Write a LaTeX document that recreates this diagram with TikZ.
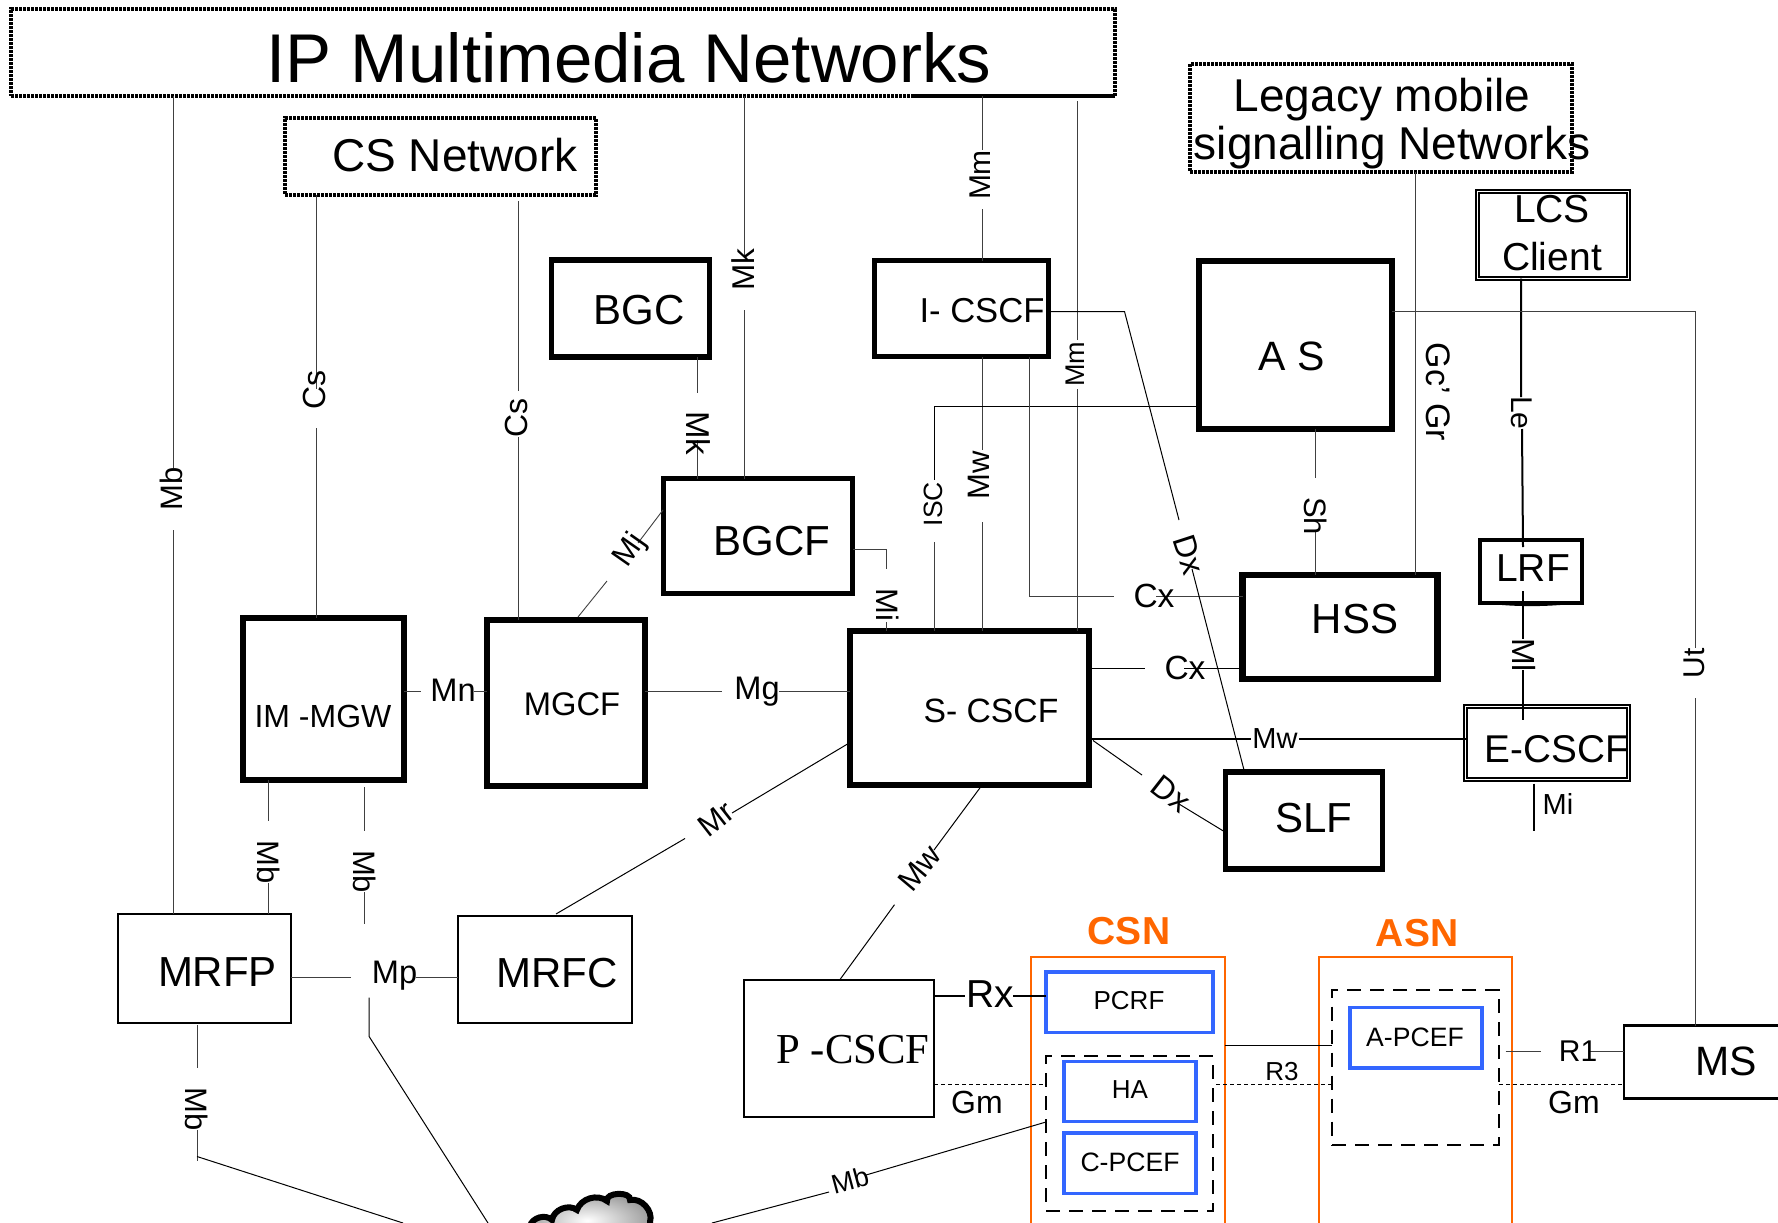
\documentclass[tikz,border=0pt]{standalone}
\usepackage{fontspec}
\setmainfont{Liberation Sans}
\newfontfamily\serifpart{Liberation Serif}
\tikzset{
    lab/.style={font=\fontsize{#1}{48}\selectfont,inner sep=0pt,outer sep=0pt,align=center},
    wh/.style 2 args={minimum width=#1pt,minimum height=#2pt,inner sep=0pt,outer sep=0pt},
    heavybox/.style={draw,line width=#1pt},
    thinbox/.style={draw,line width=2pt},
    doublebox/.style={draw,double,double distance=1.6pt,line width=2pt},
    dotbox/.style={draw,line width=3.5pt,dash pattern=on 3pt off 1pt},
    bluebox/.style={draw=netblue,line width=3.4pt},
    dashbox/.style={draw,line width=2pt,dash pattern=on 14pt off 9pt},
    orangebox/.style={draw=netorange,line width=2pt},
    lnk/.style={line width=0.9pt,black!75},
    solidlnk/.style={line width=1pt},
    boldlnk/.style={line width=2pt},
    dashlnk/.style={line width=1pt,dash pattern=on 4pt off 3pt}
}
\definecolor{netblue}{RGB}{51,102,255}
\definecolor{netorange}{RGB}{255,102,0}
\begin{document}
\begin{tikzpicture}[x=1pt,y=-1pt]
    \useasboundingbox (0,0) rectangle (1778,1223);
    \clip (0,0) rectangle (1778,1223);
    \node[dotbox,wh={1104}{87}] (ipn) at (563,52.5) {};
    \node[lab=69] (ipnT) at (629,58) {IP Multimedia Networks};
    \node[dotbox,wh={311}{77}] (csn0) at (440.5,156.5) {};
    \node[lab=46] (csn0T) at (455,155) {CS Network};
    \node[dotbox,wh={382}{108}] (leg) at (1381,118) {};
    \node[lab=46] (legT) at (1392,123.5) {\hspace*{-20pt}Legacy mobile\\signalling Networks};
    \node[doublebox,wh={151}{87}] (lcs) at (1553,235) {};
    \node[lab=39] (lcsT) at (1552,233) {LCS\\Client};
    \node[heavybox=5.5,wh={158}{97}] (bgc) at (630.5,308.5) {};
    \node[lab=42] (bgcT) at (639,310) {BGC};
    \node[heavybox=5,wh={174}{96}] (icscf) at (961.5,308.5) {};
    \node[lab=34.6] (icscfT) at (982,311) {I- CSCF};
    \node[heavybox=6.5,wh={193}{168}] (as) at (1295.5,345) {};
    \node[lab=41] (asT) at (1292,356) {A S};
    \node[heavybox=5.5,wh={189}{115}] (bgcf) at (758,536) {};
    \node[lab=42] (bgcfT) at (772,541) {BGCF};
    \node[heavybox=6,wh={161}{162}] (imgw) at (323.5,699) {};
    \node[lab=32] (imgwT) at (323,716) {IM -MGW};
    \node[heavybox=6,wh={158}{166}] (mgcf) at (566,703) {};
    \node[lab=32.7] (mgcfT) at (572,704) {MGCF};
    \node[heavybox=6,wh={239}{154}] (scscf) at (969.5,708) {};
    \node[lab=33.7] (scscfT) at (991,711) {S- CSCF};
    \node[heavybox=6.5,wh={195}{104}] (hss) at (1340,627) {};
    \node[lab=42] (hssT) at (1355,619) {HSS};
    \node[heavybox=4,wh={102}{63}] (lrf) at (1531,571) {};
    \node[lab=39] (lrfT) at (1533,568) {LRF};
    \node[doublebox,wh={163}{73}] (ecscf) at (1547,743) {};
    \node[lab=38.7] (ecscfT) at (1557,749.5) {E-CSCF};
    \node[heavybox=5.5,wh={157}{97}] (slf) at (1304,820.5) {};
    \node[lab=42] (slfT) at (1314,818) {SLF};
    \node[thinbox,wh={173}{108.5}] (mrfp) at (204.5,968.25) {};
    \node[lab=42] (mrfpT) at (217.5,972) {MRFP};
    \node[thinbox,wh={173.5}{107.8}] (mrfc) at (545,969.5) {};
    \node[lab=42] (mrfcT) at (557,973) {MRFC};
    \node[thinbox,wh={190}{137.4}] (pcscf) at (839,1048.7) {};
    \node[lab=42.7] (pcscfT) at (853,1050) {\serifpart P -CSCF};
    \node[orangebox,wh={193.5}{303}] (csn) at (1128,1108.5) {};
    \node[lab=39,text=netorange] (csnT) at (1129,931.5) {\bfseries CSN};
    \node[orangebox,wh={193}{303}] (asn) at (1415.5,1108.5) {};
    \node[lab=39,text=netorange] (asnT) at (1417,933.4) {\bfseries ASN};
    \node[bluebox,wh={167}{60.3}] (pcrf) at (1129.5,1002.2) {};
    \node[lab=26] (pcrfT) at (1129,1000.7) {PCRF};
    \node[dashbox,wh={167}{154.8}] (hagrp) at (1129.5,1133.4) {};
    \node[bluebox,wh={132}{59.8}] (ha) at (1130,1091.4) {};
    \node[lab=26] (haT) at (1130,1089.7) {HA};
    \node[bluebox,wh={132}{60.3}] (cpcef) at (1130,1163.3) {};
    \node[lab=26.6] (cpcefT) at (1130,1162) {C-PCEF};
    \node[dashbox,wh={167}{155.2}] (apgrp) at (1415.5,1067.4) {};
    \node[bluebox,wh={132}{60.4}] (apcef) at (1416,1037.8) {};
    \node[lab=26.6] (apcefT) at (1415,1037) {A-PCEF};
    \node[heavybox=2.5,wh={166}{73}] (ms) at (1707,1062) {};
    \node[lab=41] (msT) at (1726,1061) {MS};
    \draw[line width=3.5pt] (912,96) coordinate (ipnA) -- (ipn.south east);
    \draw[solidlnk] (lrf.south west) to[bend right=6] (lrf.south east);
    \shadedraw[inner color=white,outer color=gray!80,line width=6pt] (527,1250) to[bend left=50] (530,1226) to[bend left=60] (552,1220) to[bend left=60] (577,1210) to[bend left=55] (607,1201) to[bend left=100] (630,1200) to[bend left=60] (650,1222) -- (650,1250) -- cycle;
    \coordinate (cloudA) at (403,1223);
    \coordinate (cloudB) at (488,1223);
    \coordinate (cloudC) at (712,1223);

    \coordinate (mbA) at (173,468); \coordinate (mbB) at (173,530);
    \draw[lnk] (ipn.south -| mbA) -- (mbA) (mbB) -- (mrfp.north -| mbB);
    \node[lab=31,rotate=90] (mbL) at (171,489) {Mb};
    \coordinate (csA) at (316,389); \coordinate (csB) at (316,428);
    \draw[lnk] (csn0.south -| csA) -- (csA) (csB) -- (imgw.north -| csB);
    \node[lab=32,rotate=90] (csL) at (314,390) {Cs};
    \coordinate (ctA) at (518,201); \coordinate (ctB) at (518,391); \coordinate (ctC) at (518,437);
    \draw[lnk] (ctA) -- (ctB) (ctC) -- (mgcf.north -| ctC);
    \node[lab=32,rotate=90] (ctL) at (516,418) {Cs};
    \coordinate (mkA) at (744,257); \coordinate (mkB) at (744,310);
    \draw[lnk] (ipn.south -| mkA) -- (mkA) (mkB) -- (bgcf.north -| mkB);
    \node[lab=31.5,rotate=90] (mkL) at (743,270) {Mk};
    \coordinate (klA) at (697,393); \coordinate (klB) at (697,440);
    \draw[lnk] (bgc.south -| klA) -- (klA) (klB) -- (bgcf.north -| klB);
    \node[lab=33,rotate=-90] (klL) at (698,433) {Mk};
    \coordinate (mjA) at (578,617); \coordinate (mjB) at (607,581); \coordinate (mjC) at (638,543); \coordinate (mjD) at (663,510);
    \draw[lnk] (mjA) -- (mjB) (mjC) -- (mjD);
    \node[lab=31,rotate=55] (mjL) at (630,551) {Mj};
    \coordinate (miA) at (886.5,569); \coordinate (miB) at (886.5,622);
    \draw[lnk] (bgcf.east |- 0,549) -| (miA) (miB) -- (scscf.north -| miB);
    \node[lab=31,rotate=-90] (miL) at (888,605) {Mi};
    \coordinate (mmA) at (982,150); \coordinate (mmB) at (982,209);
    \draw[lnk] (ipn.south -| mmA) -- (mmA) (mmB) -- (icscf.north -| mmB);
    \node[lab=30,rotate=90] (mmL) at (980,175) {Mm};
    \coordinate (moA) at (1077.5,101); \coordinate (moB) at (1077.5,340); \coordinate (moC) at (1077.5,389);
    \draw[lnk] (moA) -- (moB) (moC) -- (scscf.north -| moC);
    \node[lab=27,rotate=90] (moL) at (1075,364) {Mm};
    \coordinate (mwA) at (982,450); \coordinate (mwB) at (982,522);
    \draw[lnk] (icscf.south -| mwA) -- (mwA) (mwB) -- (scscf.north -| mwB);
    \node[lab=31,rotate=90] (mwL) at (979,475) {Mw};
    \coordinate (isA) at (934,480); \coordinate (isB) at (934,542);
    \draw[solidlnk] (as.west |- 0,406) -| (isA);
    \draw[lnk] (isB) -- (scscf.north -| isB);
    \node[lab=26.5,rotate=90] (isL) at (933,504) {ISC};
    \coordinate (cxA) at (1029,596); \coordinate (cxB) at (1114,596); \coordinate (cxC) at (1156,596);
    \draw[lnk] (icscf.south -| cxA) -- (cxA) -- (cxB) (cxC) -- (hss.west |- cxC);
    \node[lab=33.5] (cxL) at (1154,596) {Cx};
    \coordinate (dxA) at (1124.5,311.5); \coordinate (dxB) at (1179,520); \coordinate (dxC) at (1192,569); \coordinate (dxD) at (1244,770);
    \draw[solidlnk] (icscf.east |- dxA) -- (dxA) -- (dxB) (dxC) -- (dxD);
    \node[lab=32,rotate=-72] (dxL) at (1189,555) {Dx};
    \coordinate (shA) at (1315,478); \coordinate (shB) at (1315,530);
    \draw[lnk] (as.south -| shA) -- (shA) (shB) -- (hss.north -| shB);
    \node[lab=31,rotate=-90] (shL) at (1316,516) {Sh};
    \coordinate (gcA) at (1415.5,300);
    \draw[lnk] (leg.south -| gcA) -- (hss.north -| gcA);
    \node[lab=34,rotate=-90] (gcL) at (1438,392) {Gc’ Gr};
    \coordinate (leA) at (1521,397); \coordinate (leB) at (1522,429); \coordinate (leC) at (1523,547);
    \draw[boldlnk] (lcs.south -| leA) -- (leA) (leB) -- (leC);
    \node[lab=30,rotate=-90] (leL) at (1522,413) {Le};
    \coordinate (mlA) at (1523,591); \coordinate (mlB) at (1523,639); \coordinate (mlC) at (1523,670); \coordinate (mlD) at (1523,720);
    \draw[boldlnk] (mlA) -- (mlB) (mlC) -- (mlD);
    \node[lab=32,rotate=-90] (mlL) at (1524,655) {Ml};
    \coordinate (mkiA) at (1534.4,830.5);
    \draw[boldlnk] (ecscf.south -| mkiA) ++(0,4) -- (mkiA);
    \node[lab=29] (mkiL) at (1558,804) {Mi};
    \coordinate (utA) at (1695,311.5); \coordinate (utB) at (1695,648); \coordinate (utC) at (1695,698);
    \draw[lnk] (as.east |- utA) -- (utA) -- (utB) (utC) -- (ms.north -| utC);
    \node[lab=30,rotate=90] (utL) at (1694,663) {Ut};
    \coordinate (mnA) at (421,691.7); \coordinate (mnB) at (474,691.7);
    \draw[lnk] (imgw.east |- mnA) -- (mnA) (mnB) -- (mgcf.west |- mnB);
    \node[lab=32.6] (mnL) at (453,690) {Mn};
    \coordinate (mgA) at (722,691.7); \coordinate (mgB) at (779,691.7);
    \draw[lnk] (mgcf.east |- mgA) -- (mgA) (mgB) -- (scscf.west |- mgB);
    \node[lab=32.6] (mgL) at (757,692) {Mg};
    \coordinate (mrA) at (850,742.5); \coordinate (mrB) at (732,813); \coordinate (mrC) at (685,838.5); \coordinate (mrD) at (556,914);
    \draw[solidlnk] (mrA) -- (mrB) (mrC) -- (mrD);
    \node[lab=31,rotate=38] (mrL) at (716,819) {Mr};
    \coordinate (mcA) at (268.5,821); \coordinate (mcB) at (268.5,882.5);
    \draw[lnk] (imgw.south -| mcA) -- (mcA) (mcB) -- (mrfp.north -| mcB);
    \node[lab=31,rotate=-90] (mcL) at (269,862) {Mb};
    \coordinate (mdA) at (364,787); \coordinate (mdB) at (364,830.5); \coordinate (mdC) at (364,892); \coordinate (mdD) at (364,923.5);
    \draw[lnk] (mdA) -- (mdB) (mdC) -- (mdD);
    \node[lab=31,rotate=-90] (mdL) at (365,871.6) {Mb};
    \coordinate (mpA) at (351,977.5); \coordinate (mpB) at (416,977.5);
    \draw[lnk] (mrfp.east |- mpA) -- (mpA) (mpB) -- (mrfc.west |- mpB);
    \node[lab=32.6] (mpL) at (394.5,976) {Mp};
    \coordinate (mfA) at (369,997.7); \coordinate (mfB) at (369,1036.3);
    \draw[solidlnk] (mfA) -- (mfB) -- (cloudB);
    \coordinate (meA) at (197,1025.4); \coordinate (meB) at (197,1068); \coordinate (meC) at (197,1130); \coordinate (meD) at (197,1161); \coordinate (meE) at (197,1156.5);
    \draw[lnk] (meA) -- (meB) (meC) -- (meD);
    \draw[solidlnk] (meE) -- (cloudA);
    \node[lab=31,rotate=-90] (meL) at (197,1109.5) {Mb};
    \coordinate (mgrpA) at (1046,1122); \coordinate (mgrpB) at (866,1175); \coordinate (mgrpC) at (829,1192);
    \draw[solidlnk] (hagrp.west |- mgrpA) -- (mgrpB) (mgrpC) -- (cloudC);
    \node[lab=27,rotate=15] (mgrpL) at (850,1180) {Mb};
    \coordinate (rxA) at (965,995.6); \coordinate (rxB) at (1013,995.6);
    \draw[boldlnk] (pcscf.east |- rxA) -- (rxA) (rxB) -- (pcrf.west |- rxB);
    \node[lab=39] (rxL) at (990,994) {Rx};
    \coordinate (gmA) at (1046,1084.2);
    \draw[dashlnk] (pcscf.east |- gmA) -- (gmA);
    \node[lab=32] (gmL) at (977,1102) {Gm};
    \coordinate (rtA) at (1216,1084.2);
    \draw[dashlnk] (rtA) -- (apgrp.west |- rtA);
    \node[lab=26] (rtL) at (1282,1072) {R3};
    \coordinate (gnA) at (1499,1084.2);
    \draw[dashlnk] (gnA) -- (ms.west |- gnA);
    \node[lab=32] (gnL) at (1574,1102) {Gm};
    \coordinate (roA) at (1505.5,1051); \coordinate (roB) at (1541,1051); \coordinate (roC) at (1590,1051);
    \draw[lnk] (roA) -- (roB) (roC) -- (ms.west |- roC);
    \node[lab=30] (roL) at (1578,1051) {R1};
    \coordinate (caA) at (1225,1045);
    \draw[solidlnk] (csn.east |- caA) -- (apgrp.west |- caA);
    \coordinate (msA) at (1251,739); \coordinate (msB) at (1299,739);
    \draw[boldlnk] (scscf.east |- msA) -- (msA) (msB) -- (ecscf.west |- msB);
    \node[lab=29] (msL) at (1275,739) {Mw};
    \coordinate (cyA) at (1145,668.4); \coordinate (cyB) at (1184,668.4);
    \draw[solidlnk] (scscf.east |- cyA) -- (cyA) (cyB) -- (hss.west |- cyB);
    \node[lab=33.5] (cyL) at (1185,668) {Cx};
    \coordinate (dyA) at (1093,740.5); \coordinate (dyB) at (1142,775); \coordinate (dyC) at (1179,804); \coordinate (dyD) at (1225,832);
    \draw[solidlnk] (dyA) -- (dyB) (dyC) -- (dyD);
    \node[lab=32,rotate=-38] (dyL) at (1171,794) {Dx};
    \coordinate (mxA) at (980.6,787); \coordinate (mxB) at (934,850); \coordinate (mxC) at (894.5,904.7); \coordinate (mxD) at (840,979.5);
    \draw[solidlnk] (mxA) -- (mxB) (mxC) -- (mxD);
    \node[lab=31,rotate=50] (mxL) at (919.5,868) {Mw};
\end{tikzpicture}
\end{document}
